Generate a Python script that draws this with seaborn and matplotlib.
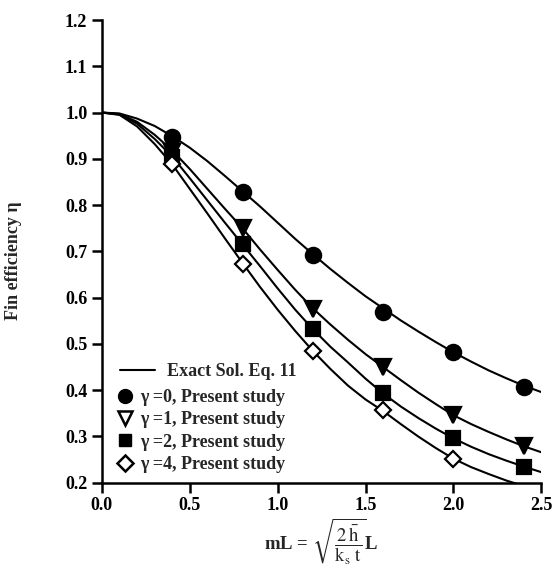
import matplotlib
matplotlib.use("Agg")
import matplotlib.pyplot as plt
import pandas as pd
import seaborn as sns
from matplotlib.lines import Line2D

# exact-solution curves at 0.1 steps
CURVE_X = [0.0, 0.1, 0.2, 0.3, 0.4, 0.5, 0.6, 0.7, 0.8, 0.9, 1.0, 1.1, 1.2,
           1.3, 1.4, 1.5, 1.6, 1.7, 1.8, 1.9, 2.0, 2.1, 2.2, 2.3, 2.4, 2.5]
CURVE_G0 = [1.0, 0.998, 0.987, 0.971, 0.949, 0.924, 0.895, 0.863, 0.830, 0.797,
            0.762, 0.727, 0.694, 0.662, 0.632, 0.603, 0.577, 0.551, 0.527, 0.504,
            0.482, 0.462, 0.443, 0.426, 0.410, 0.396]
CURVE_G1 = [1.0, 0.997, 0.980, 0.952, 0.918, 0.878, 0.835, 0.792, 0.750, 0.704,
            0.660, 0.617, 0.577, 0.542, 0.509, 0.478, 0.450, 0.422, 0.395, 0.370,
            0.346, 0.327, 0.310, 0.294, 0.279, 0.266]
CURVE_G2 = [1.0, 0.996, 0.976, 0.943, 0.905, 0.858, 0.810, 0.762, 0.715, 0.668,
            0.620, 0.574, 0.532, 0.494, 0.460, 0.425, 0.393, 0.365, 0.340, 0.317,
            0.296, 0.278, 0.262, 0.248, 0.235, 0.223]
CURVE_G4 = [1.0, 0.995, 0.970, 0.932, 0.888, 0.835, 0.782, 0.728, 0.675, 0.623,
            0.574, 0.528, 0.485, 0.446, 0.410, 0.380, 0.355, 0.327, 0.300, 0.275,
            0.252, 0.234, 0.219, 0.205, 0.193, 0.182]

# present-study points (no gamma=4 point at 2.4)
POINT_X = [0.4, 0.8, 1.2, 1.6, 2.0, 2.4]
POINT_G0 = [0.948, 0.828, 0.692, 0.568, 0.482, 0.408]
POINT_G1 = [0.915, 0.750, 0.575, 0.450, 0.347, 0.280]
POINT_G2 = [0.905, 0.715, 0.532, 0.393, 0.297, 0.235]
POINT_G4 = [0.888, 0.673, 0.484, 0.357, 0.252, None]

GAMMAS = ["0", "1", "2", "4"]
X_TICKS = [0.0, 0.5, 1.0, 1.5, 2.0, 2.5]
Y_TICKS = [0.2, 0.3, 0.4, 0.5, 0.6, 0.7, 0.8, 0.9, 1.0, 1.1, 1.2]


def main() -> None:
    sns.set_style("ticks")
    plt.rcParams["font.family"] = ["Liberation Serif", "DejaVu Serif"]
    plt.rcParams["mathtext.fontset"] = "stix"

    curves = pd.concat([
        pd.DataFrame({"x": CURVE_X, "eta": ys, "gamma": g})
        for g, ys in zip(GAMMAS, [CURVE_G0, CURVE_G1, CURVE_G2, CURVE_G4])
    ])
    points = pd.concat([
        pd.DataFrame({"x": POINT_X, "eta": ys, "gamma": g})
        for g, ys in zip(GAMMAS, [POINT_G0, POINT_G1, POINT_G2, POINT_G4])
    ]).dropna()

    fig = plt.figure(figsize=(5.54, 5.72), dpi=100)
    ax = fig.add_axes([0.184, 0.156, 0.793, 0.809])

    sns.lineplot(data=curves, x="x", y="eta", units="gamma", estimator=None,
                 color="black", linewidth=1.5, ax=ax, legend=False)

    # marker, face colour, size (pt)
    styles = {
        "0": ("o", "black", 11),
        "1": ("v", "black", 11.5),
        "2": ("s", "black", 10.5),
        "4": ("D", "white", 8.5),
    }
    for g in GAMMAS:
        sub = points[points["gamma"] == g]
        marker, fc, size = styles[g]
        sns.lineplot(data=sub, x="x", y="eta", linestyle="", marker=marker,
                     markersize=size, markerfacecolor=fc, markeredgecolor="black",
                     markeredgewidth=1.6, color="black", ax=ax, zorder=3,
                     legend=False)

    ax.set_xlim(0.0, 2.5)
    ax.set_ylim(0.2, 1.2)
    ax.set_xticks(X_TICKS)
    ax.set_yticks(Y_TICKS)
    ax.set_xticklabels([f"{v:.1f}" for v in X_TICKS], fontsize=13, fontweight="bold")
    ax.set_yticklabels([f"{v:.1f}" for v in Y_TICKS], fontsize=13, fontweight="bold")
    ax.tick_params(direction="out", length=7, width=1.8, colors="black")
    for side in ["top", "right"]:
        ax.spines[side].set_visible(False)
    for side in ["left", "bottom"]:
        ax.spines[side].set_linewidth(1.8)
        ax.spines[side].set_color("black")

    ax.set_xlabel(r"mL = $\sqrt{\dfrac{2\,\bar{\mathrm{h}}}{\mathrm{k_s\ t}}}$L",
                  fontsize=13.5, fontweight="bold", labelpad=2)
    ax.set_ylabel("Fin efficiency η", fontsize=13, fontweight="bold")
    ax.yaxis.set_label_coords(-0.182, 0.48)

    # line legend and marker legend are placed separately, like the original
    line_leg = ax.legend([Line2D([], [], color="black", lw=1.5)], ["Exact Sol. Eq. 11"],
                         loc="upper left", bbox_to_anchor=(0.041, 0.258),
                         frameon=False, handlelength=1.95, handletextpad=0.67,
                         borderaxespad=0, borderpad=0,
                         prop={"size": 13, "weight": "bold"})
    ax.add_artist(line_leg)

    handles = [
        Line2D([], [], ls="", marker="o", ms=10, mfc="black", mec="black"),
        Line2D([], [], ls="", marker="v", ms=10, mfc="white", mec="black", mew=1.8),
        Line2D([], [], ls="", marker="s", ms=9, mfc="black", mec="black"),
        Line2D([], [], ls="", marker="D", ms=8, mfc="white", mec="black", mew=1.8),
    ]
    labels = [f"γ ={g}, Present study" for g in GAMMAS]
    ax.legend(handles, labels, loc="upper left", bbox_to_anchor=(0.033, 0.203),
              frameon=False, handlelength=1.0, handletextpad=0.3,
              labelspacing=0.3, borderaxespad=0, borderpad=0,
              prop={"size": 13, "weight": "bold"})

    fig.savefig("out.png", dpi=100)
    plt.close(fig)


if __name__ == "__main__":
    main()
